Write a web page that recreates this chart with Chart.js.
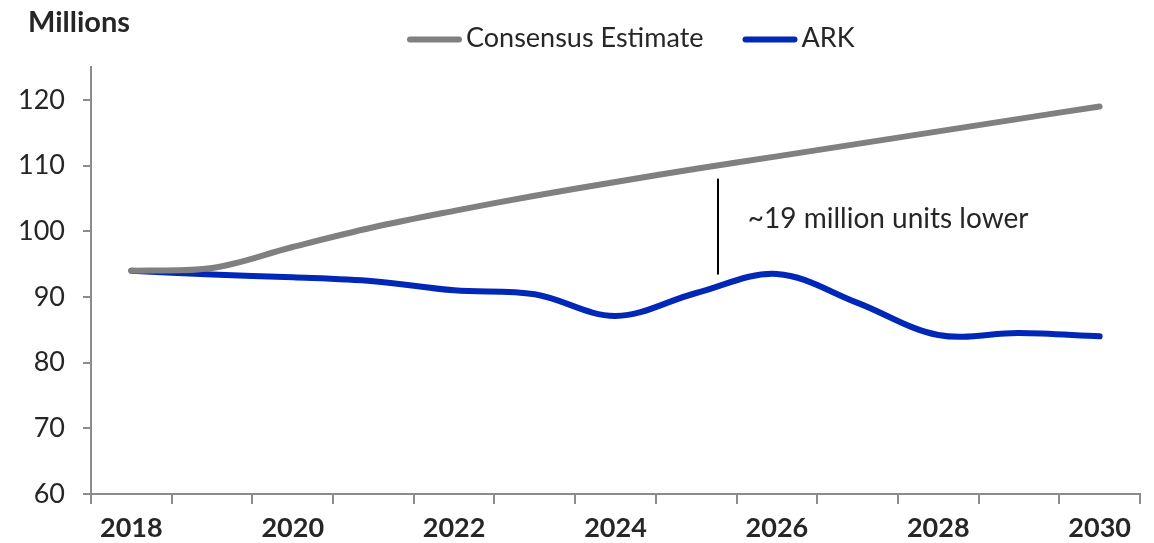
<!DOCTYPE html>
<html>
<head>
<meta charset="utf-8">
<script src="https://cdn.jsdelivr.net/npm/chart.js@4.4.1/dist/chart.umd.min.js"></script>
<style>
  html, body { margin: 0; padding: 0; background: #ffffff; }
  #wrap { width: 1154px; height: 543px; position: relative; }
</style>
</head>
<body>
<div id="wrap"><canvas id="chart"></canvas></div>
<script>
// ---- Data ----
const years = ['2018','2019','2020','2021','2022','2023','2024','2025','2026','2027','2028','2029','2030'];
const consensusEstimate = [94.0, 94.4, 97.6, 100.6, 103.1, 105.4, 107.5, 109.5, 111.4, 113.3, 115.2, 117.1, 119.0];
const arkForecast = [94.0, 93.4, 93.0, 92.4, 91.0, 90.4, 87.1, 90.6, 93.5, 89.1, 84.2, 84.5, 84.0];
const yAxisMin = 60, yAxisMax = 125, yStep = 10;
const yAxisTitle = 'Millions';
const seriesNames = ['Consensus Estimate', 'ARK'];
const gapNote = { text: '~19 million units lower', lineX: 7.27, lineTop: 108.0, lineBottom: 93.4, textX: 7.64, textY: 101.8 };

// ---- Styles ----
const FONT = 'Lato';
const TEXT = '#262626';
const AXIS = '#8c8c8c';
const GRAY = '#808080';
const BLUE = '#0028b8';

const extras = {
  id: 'extras',
  afterDraw(chart) {
    const ctx = chart.ctx;
    const xs = chart.scales.x, ys = chart.scales.y;
    ctx.save();
    // axis title
    ctx.fillStyle = TEXT;
    ctx.font = 'bold 29px ' + FONT;
    ctx.textAlign = 'left';
    ctx.textBaseline = 'alphabetic';
    ctx.fillText(yAxisTitle, 28, 32);

    // legend
    ctx.font = '27px ' + FONT;
    let x = 407;
    const ly = 39.5;
    chart.data.datasets.forEach(ds => {
      ctx.strokeStyle = ds.borderColor;
      ctx.lineWidth = 6;
      ctx.lineCap = 'round';
      ctx.beginPath();
      ctx.moveTo(x + 3, ly);
      ctx.lineTo(x + 52, ly);
      ctx.stroke();
      x += 59;
      ctx.fillStyle = TEXT;
      ctx.fillText(ds.label, x, 47);
      x += ctx.measureText(ds.label).width + 39;
    });

    // annotation
    const lx = xs.getPixelForValue(gapNote.lineX);
    ctx.strokeStyle = '#000000';
    ctx.lineWidth = 2;
    ctx.lineCap = 'butt';
    ctx.beginPath();
    ctx.moveTo(lx, ys.getPixelForValue(gapNote.lineTop));
    ctx.lineTo(lx, ys.getPixelForValue(gapNote.lineBottom));
    ctx.stroke();
    ctx.fillStyle = TEXT;
    ctx.font = '28px ' + FONT;
    ctx.textBaseline = 'middle';
    ctx.fillText(gapNote.text, xs.getPixelForValue(gapNote.textX), ys.getPixelForValue(gapNote.textY));
    ctx.restore();
  }
};

new Chart(document.getElementById('chart'), {
  type: 'line',
  data: {
    labels: years,
    datasets: [
      { label: seriesNames[0], data: consensusEstimate, borderColor: GRAY, backgroundColor: GRAY,
        borderWidth: 6, tension: 0.35, pointRadius: 0, borderCapStyle: 'round', borderJoinStyle: 'round', fill: false },
      { label: seriesNames[1], data: arkForecast, borderColor: BLUE, backgroundColor: BLUE,
        borderWidth: 6, tension: 0.35, pointRadius: 0, borderCapStyle: 'round', borderJoinStyle: 'round', fill: false }
    ]
  },
  options: {
    responsive: true,
    maintainAspectRatio: false,
    animation: false,
    devicePixelRatio: 1,
    layout: { padding: { top: 67, right: 14, left: 0, bottom: 0 } },
    plugins: { legend: { display: false }, tooltip: { enabled: false } },
    scales: {
      x: {
        type: 'category',
        offset: true,
        grid: { offset: true, drawOnChartArea: false, drawTicks: true, tickLength: 10, color: AXIS, lineWidth: 2 },
        border: { display: true, color: AXIS, width: 2 },
        ticks: {
          autoSkip: false, maxRotation: 0, minRotation: 0, padding: 8, color: TEXT,
          font: { family: FONT, size: 27, weight: 'bold' },
          callback: (v, i) => (i % 2 === 0 ? years[i] : '')
        },
        afterFit: s => { s.height = 49; }
      },
      y: {
        min: yAxisMin, max: yAxisMax,
        grid: { drawOnChartArea: false, drawTicks: true, tickLength: 8, color: AXIS, lineWidth: 2 },
        border: { display: true, color: AXIS, width: 2 },
        ticks: { stepSize: yStep, includeBounds: false, padding: 18, color: TEXT, font: { family: FONT, size: 27 } },
        afterFit: s => { s.width = 91; }
      }
    }
  },
  plugins: [extras]
});
</script>
</body>
</html>
